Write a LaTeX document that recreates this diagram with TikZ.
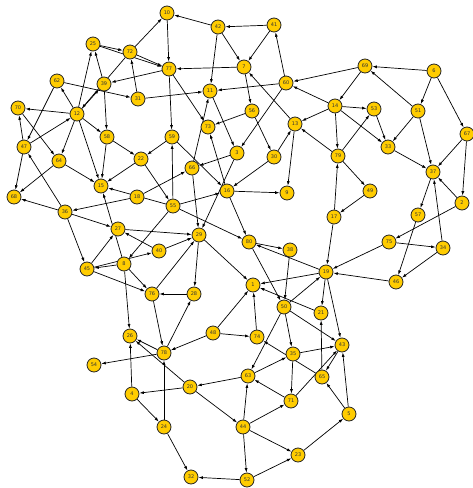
\documentclass[tikz,border=0pt]{standalone}
\usepackage{fontspec}
\setmainfont{DejaVu Sans}
\usetikzlibrary{arrows.meta,backgrounds}
\definecolor{vtxfill}{RGB}{255,204,0}
\begin{document}
\begin{tikzpicture}[
  x=1pt, y=-1pt,
  grvtx/.style = {circle, draw=black!85, line width=0.8pt, fill=vtxfill,
    minimum size=14pt, inner sep=0pt, font=\fontsize{5}{5}\selectfont, text=black!80},
  grarr/.style = {-{Latex[length=4.5pt,width=3pt]}, line width=0.7pt, black}
]
  \useasboundingbox (0,0) rectangle (473,488);
  % vertices
  \foreach \n/\x/\y in {1/253/285, 2/462/203, 3/237/153, 4/132/394, 5/349/414,
    6/434/71, 7/244/67, 8/124/264, 9/287/193, 10/167/13, 11/210/91, 12/77/114,
    13/295/124, 14/335/106, 15/101/186, 16/227/191, 17/334/217, 18/137/197,
    19/326/272, 20/190/387, 21/321/313, 22/141/159, 23/298/455, 24/164/427,
    25/93/44, 26/130/336, 27/118/229, 28/194/294, 29/199/235, 30/274/157,
    31/138/99, 32/191/477, 33/388/147, 34/443/248, 35/293/354, 36/65/212,
    37/433/172, 38/290/250, 39/104/84, 40/159/251, 41/274/25, 42/218/27,
    43/342/345, 44/243/427, 45/87/269, 46/396/282, 47/24/147, 48/213/333,
    49/370/191, 50/284/307, 51/418/111, 52/247/480, 53/374/109, 54/94/365,
    55/173/206, 56/252/111, 57/418/215, 58/107/137, 59/172/137, 60/286/83,
    62/57/81, 63/248/376, 64/59/161, 65/322/377, 66/192/168, 67/467/134,
    68/14/197, 69/365/66, 70/18/108, 71/291/401, 72/130/52, 73/208/127,
    74/257/337, 75/389/242, 76/152/294, 77/169/69, 78/164/353, 79/338/156,
    80/249/242}
    \node[grvtx] (v\n) at (\x,\y) {\n};
  % arcs
  \begin{pgfonlayer}{background}
  \foreach \a/\b in {25/72, 25/77, 72/77, 72/10, 10/77, 42/10, 41/42, 42/7,
    41/7, 42/11, 7/77, 60/41, 60/11, 7/56, 56/73, 56/30, 60/3, 11/3, 13/7,
    30/13, 79/13, 14/13, 13/9, 69/60, 14/60, 77/59, 77/73, 66/11, 16/73, 3/29,
    30/16, 59/16, 55/16, 16/9, 16/80, 66/29, 3/66, 18/66, 18/36, 55/15, 22/15,
    22/55, 58/22, 59/22, 55/59, 55/80, 55/8, 12/15, 58/15, 64/15, 64/68, 36/68,
    47/68, 36/47, 47/70, 70/64, 12/70, 47/12, 12/62, 62/47, 12/25, 39/25, 72/12,
    12/39, 39/58, 12/58, 12/64, 77/39, 62/31, 31/72, 31/11, 8/15, 36/27, 36/45,
    45/27, 45/76, 8/45, 45/40, 40/27, 40/29, 27/29, 8/76, 76/29, 8/26, 28/76,
    29/28, 29/1, 78/28, 76/78, 78/26, 20/26, 78/54, 20/4, 4/26, 4/24, 24/78,
    24/32, 48/78, 48/74, 48/1, 74/1, 20/44, 63/20, 44/63, 44/71, 44/23, 44/52,
    52/32, 52/23, 23/5, 5/65, 5/43, 65/21, 43/65, 71/43, 65/74, 71/63, 63/35,
    50/63, 50/35, 35/71, 35/43, 50/43, 50/19, 21/1, 19/1, 19/21, 19/43, 19/80,
    80/38, 38/50, 80/50, 17/19, 17/79, 79/49, 49/17, 75/19, 46/19, 75/34,
    34/46, 34/37, 57/46, 37/57, 2/37, 2/75, 67/2, 67/37, 33/37, 51/37, 6/51,
    6/67, 6/69, 51/69, 51/33, 69/14, 14/53, 14/33, 53/33, 14/79, 79/53}
    \draw[grarr] (v\a) -- (v\b);
  \end{pgfonlayer}
\end{tikzpicture}
\end{document}
